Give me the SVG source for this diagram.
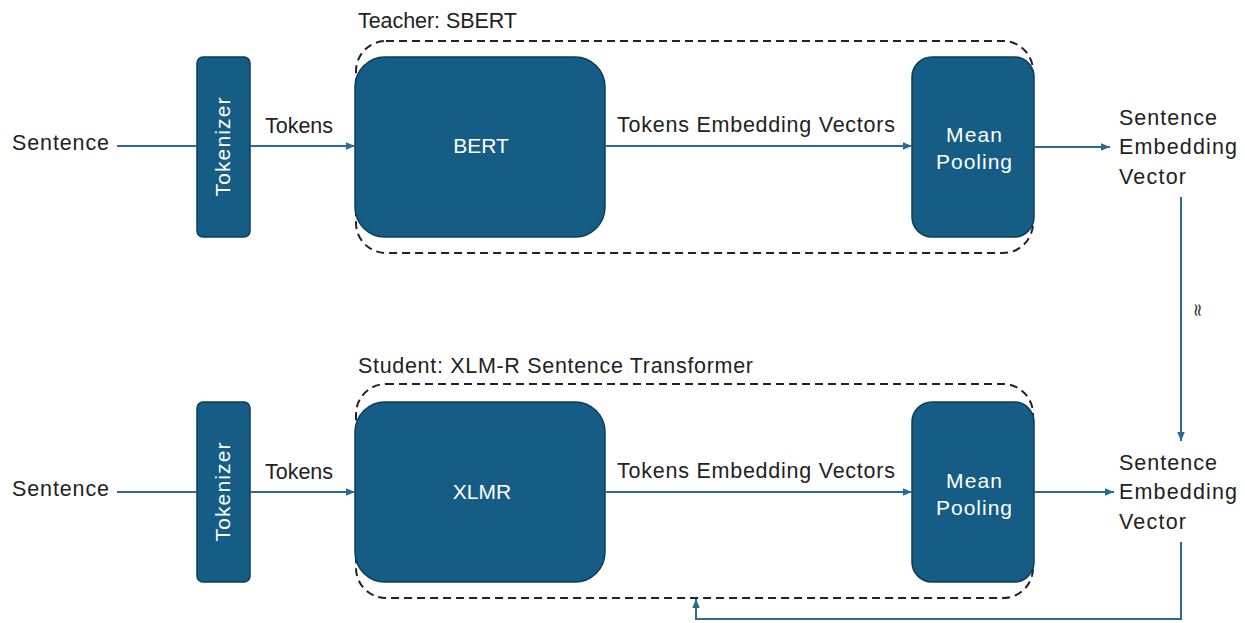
<svg xmlns="http://www.w3.org/2000/svg" width="1245" height="623" viewBox="0 0 1245 623">
  <style>
    .box { fill: #155d85; stroke: #0c3d5a; stroke-width: 1.5; }
    .group { fill: none; stroke: #222; stroke-width: 2; stroke-dasharray: 8 5; }
    .wire { fill: none; stroke: #2b6b92; stroke-width: 2; }
    .lbl { font-family: "Liberation Sans", Arial, sans-serif; font-size: 21.5px; fill: #222; }
    .in { font-family: "Liberation Sans", Arial, sans-serif; font-size: 21px; fill: #ffffff; text-anchor: middle; }
  </style>
  <defs>
    <marker id="arrow" markerUnits="userSpaceOnUse" markerWidth="11" markerHeight="10" refX="10" refY="5" orient="auto">
      <path d="M1,1.2 L10,5 L1,8.8 Z" fill="#2b6b92"/>
    </marker>
  </defs>

  <rect width="1245" height="623" fill="#ffffff"/>

  <!-- teacher branch -->
  <g id="teacher-group">
    <rect class="group" x="356" y="41" width="677" height="212" rx="30"/>
    <text class="lbl" x="358" y="28" textLength="159" lengthAdjust="spacing">Teacher: SBERT</text>
  </g>
  <g id="sentence-top">
    <text class="lbl" x="12" y="150" textLength="97" lengthAdjust="spacing">Sentence</text>
  </g>
  <g id="tokenizer-top">
    <rect class="box" x="197" y="57" width="53" height="180" rx="6"/>
    <text class="in" transform="translate(230,147) rotate(-90)" textLength="99" lengthAdjust="spacing">Tokenizer</text>
  </g>
  <g id="bert">
    <rect class="box" x="355" y="57" width="250" height="180" rx="30"/>
    <text class="in" x="481" y="153">BERT</text>
  </g>
  <g id="pooling-top">
    <rect class="box" x="912" y="57" width="122" height="180" rx="20"/>
    <text class="in" x="974" y="142" textLength="56" lengthAdjust="spacing">Mean</text>
    <text class="in" x="974" y="169" textLength="76" lengthAdjust="spacing">Pooling</text>
  </g>
  <g id="embedding-top">
    <text class="lbl" x="1119" y="125" textLength="98" lengthAdjust="spacing">Sentence</text>
    <text class="lbl" x="1119" y="154" textLength="118" lengthAdjust="spacing">Embedding</text>
    <text class="lbl" x="1119" y="184" textLength="67" lengthAdjust="spacing">Vector</text>
  </g>

  <!-- student branch -->
  <g id="student-group">
    <rect class="group" x="356" y="384" width="677" height="214" rx="30"/>
    <text class="lbl" x="358" y="373" textLength="395" lengthAdjust="spacing">Student: XLM-R Sentence Transformer</text>
  </g>
  <g id="sentence-bottom">
    <text class="lbl" x="12" y="496" textLength="97" lengthAdjust="spacing">Sentence</text>
  </g>
  <g id="tokenizer-bottom">
    <rect class="box" x="197" y="402" width="53" height="180" rx="6"/>
    <text class="in" transform="translate(230,492) rotate(-90)" textLength="99" lengthAdjust="spacing">Tokenizer</text>
  </g>
  <g id="xlmr">
    <rect class="box" x="355" y="402" width="250" height="180" rx="30"/>
    <text class="in" x="482" y="499">XLMR</text>
  </g>
  <g id="pooling-bottom">
    <rect class="box" x="912" y="402" width="122" height="180" rx="20"/>
    <text class="in" x="974" y="488" textLength="56" lengthAdjust="spacing">Mean</text>
    <text class="in" x="974" y="515" textLength="76" lengthAdjust="spacing">Pooling</text>
  </g>
  <g id="embedding-bottom">
    <text class="lbl" x="1119" y="470" textLength="98" lengthAdjust="spacing">Sentence</text>
    <text class="lbl" x="1119" y="499" textLength="118" lengthAdjust="spacing">Embedding</text>
    <text class="lbl" x="1119" y="529" textLength="67" lengthAdjust="spacing">Vector</text>
  </g>

  <!-- connectors -->
  <g id="connectors">
    <line class="wire" x1="117" y1="146" x2="197" y2="146"/>
    <line class="wire" x1="250" y1="146" x2="355" y2="146" marker-end="url(#arrow)"/>
    <text class="lbl" x="265" y="133" textLength="68" lengthAdjust="spacing">Tokens</text>
    <line class="wire" x1="605" y1="146" x2="912" y2="146" marker-end="url(#arrow)"/>
    <text class="lbl" x="617" y="132" textLength="278" lengthAdjust="spacing">Tokens Embedding Vectors</text>
    <line class="wire" x1="1034" y1="147" x2="1110" y2="147" marker-end="url(#arrow)"/>

    <line class="wire" x1="1181" y1="197" x2="1181" y2="441" marker-end="url(#arrow)"/>
    <text transform="translate(1192,310) rotate(90)" font-family="'DejaVu Sans', sans-serif" font-size="18" fill="#333" text-anchor="middle">≈</text>

    <line class="wire" x1="117" y1="492" x2="197" y2="492"/>
    <line class="wire" x1="250" y1="492" x2="355" y2="492" marker-end="url(#arrow)"/>
    <text class="lbl" x="265" y="479" textLength="68" lengthAdjust="spacing">Tokens</text>
    <line class="wire" x1="605" y1="492" x2="912" y2="492" marker-end="url(#arrow)"/>
    <text class="lbl" x="617" y="478" textLength="278" lengthAdjust="spacing">Tokens Embedding Vectors</text>
    <line class="wire" x1="1034" y1="492" x2="1114" y2="492" marker-end="url(#arrow)"/>

    <polyline class="wire" points="1181,542 1181,619 696,619 696,599" marker-end="url(#arrow)"/>
  </g>
</svg>
